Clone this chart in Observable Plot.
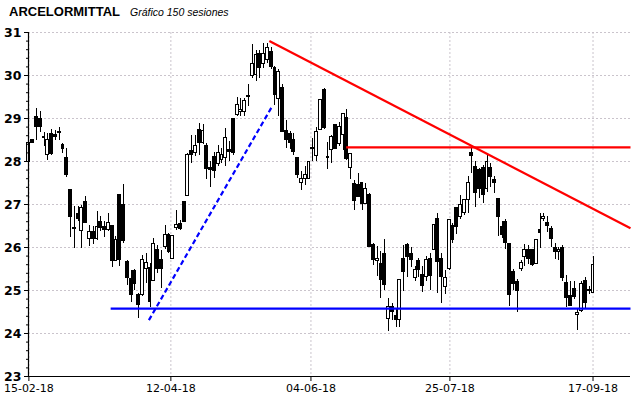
<!DOCTYPE html>
<html>
<head>
<meta charset="utf-8">
<script src="https://cdn.jsdelivr.net/npm/d3@7"></script>
<script src="https://cdn.jsdelivr.net/npm/@observablehq/plot@0.6"></script>
<style>
  html, body { margin: 0; padding: 0; background: white; }
  #wrap { position: relative; width: 640px; height: 398px; }
  #title { position: absolute; left: 9px; top: 2px; font-family: "Liberation Sans", Arial, sans-serif; white-space: nowrap; }
  #title .t { font-weight: bold; font-size: 13px; }
  #title .s { font-style: italic; font-size: 10.5px; margin-left: 10px; }
</style>
</head>
<body>
<div id="wrap">
  <div id="title"><span class="t">ARCELORMITTAL</span><span class="s">Gráfico 150 sesiones</span></div>
</div>
<script>
// Daily sessions (index 0 = 15-02-18, index 149 = 17-09-18)
const open = [
  28.0, 28.51, 29.04, 29.0, 28.57, 28.16, 28.64, 28.62, 28.66, 28.38,
  28.09, 27.33, 26.43, 26.79, 26.39, 27.05, 26.19, 26.35, 26.19, 26.6,
  26.48, 26.41, 26.5, 25.69, 27.22, 27.0, 25.67, 25.26, 25.45, 24.89,
  24.89, 25.49, 25.53, 25.22, 25.94, 25.7, 26.02, 26.29, 25.73, 26.46,
  26.54, 27.06, 27.2, 28.24, 28.2, 28.73, 28.42, 28.36, 27.85, 28.1,
  27.95, 28.03, 28.07, 28.26, 29.0, 29.09, 29.14, 29.16, 29.5, 29.99,
  30.02, 30.49, 30.26, 30.36, 30.55, 30.18, 29.45, 29.7, 28.72, 28.63,
  28.5, 28.09, 27.51, 27.59, 27.6, 28.32, 28.12, 28.74, 29.67, 28.1,
  28.26, 28.84, 28.4, 28.61, 29.02, 27.86, 27.47, 27.45, 27.5, 27.02,
  27.22, 26.05, 25.69, 25.61, 25.86, 24.33, 24.62, 24.4, 24.31, 25.74,
  26.05, 25.86, 25.3, 25.68, 25.36, 25.32, 25.74, 25.95, 26.67, 25.74,
  25.09, 25.49, 26.5, 26.91, 26.7, 26.8, 27.1, 28.19, 27.88, 27.8,
  27.84, 27.37, 27.86, 27.58, 27.12, 26.48, 26.6, 26.09, 25.43, 25.2,
  25.51, 25.78, 25.95, 25.94, 25.61, 26.4, 26.66, 26.57, 26.44, 26.0,
  25.9, 26.0, 25.18, 24.88, 25.03, 24.42, 24.53, 25.21, 24.98, 24.94
];
const high = [
  28.45, 28.52, 29.24, 29.16, 28.67, 28.65, 28.74, 28.72, 28.79, 28.43,
  28.3, 27.36, 26.95, 26.95, 26.98, 27.18, 26.52, 26.48, 26.84, 26.71,
  26.6, 26.79, 26.5, 26.25, 27.22, 27.47, 25.7, 25.47, 25.5, 24.92,
  25.82, 25.86, 25.63, 26.21, 26.05, 25.94, 26.52, 26.32, 26.27, 26.87,
  26.62, 27.08, 28.19, 28.6, 28.61, 28.88, 28.85, 28.42, 27.99, 28.2,
  28.38, 28.3, 28.77, 28.46, 29.0, 29.5, 29.47, 29.47, 29.79, 30.72,
  30.59, 30.57, 30.74, 30.74, 30.64, 30.22, 30.15, 29.8, 28.95, 28.69,
  28.65, 28.09, 27.76, 27.88, 28.0, 28.54, 28.8, 29.44, 29.7, 28.45,
  28.6, 28.86, 28.9, 29.12, 29.2, 28.17, 27.56, 27.72, 27.5, 27.49,
  27.26, 26.09, 26.02, 25.9, 26.19, 24.81, 24.7, 24.55, 25.24, 26.05,
  26.1, 26.0, 25.55, 25.75, 25.55, 25.78, 25.86, 26.54, 26.79, 25.86,
  25.47, 26.66, 26.55, 26.93, 27.22, 27.12, 27.64, 28.3, 28.0, 27.84,
  27.91, 28.19, 27.95, 27.64, 27.12, 26.6, 26.65, 26.1, 25.5, 25.25,
  25.7, 26.08, 26.05, 25.95, 26.17, 26.79, 26.78, 26.72, 26.48, 26.1,
  26.0, 26.05, 25.35, 25.2, 25.2, 24.55, 25.2, 25.3, 25.1, 25.8
];
const low = [
  28.0, 28.42, 28.5, 28.67, 28.34, 28.02, 28.13, 28.5, 28.5, 28.19,
  27.63, 26.23, 25.98, 26.6, 25.98, 26.56, 26.02, 26.06, 26.17, 26.37,
  26.23, 26.37, 25.53, 25.69, 25.55, 26.1, 25.12, 24.71, 25.0, 24.35,
  24.87, 25.16, 24.6, 25.2, 25.4, 25.05, 25.95, 25.86, 25.72, 26.4,
  26.4, 26.58, 27.19, 27.95, 28.11, 28.15, 28.4, 27.57, 27.39, 27.6,
  27.88, 27.95, 27.88, 27.99, 28.15, 29.04, 29.04, 29.04, 29.27, 29.93,
  29.85, 29.93, 30.16, 30.28, 30.15, 29.3, 29.05, 28.69, 28.3, 28.29,
  28.15, 27.6, 27.33, 27.45, 27.6, 28.0, 27.99, 28.74, 28.75, 27.81,
  27.95, 28.28, 28.35, 28.26, 28.03, 27.57, 26.86, 27.18, 26.86, 27.02,
  26.02, 25.59, 25.32, 24.81, 25.0, 24.04, 24.3, 24.15, 24.15, 24.97,
  25.3, 25.53, 25.2, 25.3, 24.95, 25.2, 25.0, 25.93, 24.93, 24.7,
  24.9, 25.47, 26.1, 26.3, 26.64, 26.75, 26.8, 27.72, 26.92, 27.14,
  27.02, 27.29, 27.4, 27.26, 26.25, 26.2, 25.95, 24.62, 25.0, 24.5,
  25.45, 25.55, 25.6, 25.55, 25.6, 25.98, 26.6, 26.35, 26.0, 25.72,
  25.7, 25.2, 24.6, 24.62, 24.8, 24.08, 24.5, 24.55, 24.9, 24.94
];
const close = [
  28.43, 28.42, 28.8, 28.81, 28.55, 28.5, 28.17, 28.56, 28.68, 28.28,
  27.69, 26.7, 26.45, 26.67, 26.93, 26.58, 26.35, 26.19, 26.48, 26.46,
  26.4, 26.58, 25.69, 26.17, 25.7, 26.16, 25.28, 24.89, 25.16, 24.66,
  25.72, 25.65, 24.74, 26.07, 25.51, 25.51, 26.3, 25.9, 26.27, 26.52,
  26.44, 26.6, 28.16, 28.16, 28.36, 28.42, 28.7, 27.82, 27.81, 27.78,
  28.19, 28.15, 28.55, 28.21, 28.19, 29.31, 29.19, 29.4, 29.52, 30.26,
  30.47, 30.18, 30.51, 30.63, 30.2, 29.55, 30.08, 28.69, 28.5, 28.44,
  28.22, 27.68, 27.6, 27.68, 27.99, 28.28, 28.68, 29.44, 28.77, 28.07,
  28.57, 28.3, 28.8, 29.1, 28.05, 28.17, 27.09, 27.18, 27.02, 27.37,
  26.02, 25.72, 25.74, 25.24, 25.12, 24.62, 24.5, 24.31, 25.24, 25.43,
  25.78, 25.7, 25.47, 25.47, 25.1, 25.71, 25.33, 26.53, 25.67, 25.32,
  25.28, 26.64, 26.17, 26.48, 27.0, 27.1, 27.49, 28.12, 27.26, 27.37,
  27.22, 27.99, 27.64, 27.49, 26.7, 26.3, 26.1, 24.89, 25.16, 24.99,
  25.65, 25.95, 25.74, 25.59, 26.17, 26.33, 26.72, 26.5, 26.19, 25.9,
  25.95, 25.3, 24.82, 24.65, 24.84, 24.48, 25.15, 24.71, 25.02, 25.6
];

// x-axis tick positions (session index) and labels
const tickIdx = [0, 37.5, 74.5, 111.2, 149];
const tickLabels = ["15-02-18", "12-04-18", "04-06-18", "25-07-18", "17-09-18"];
const yTicks = [23, 24, 25, 26, 27, 28, 29, 30, 31];

// Trend lines (start index, start value, end index, end value)
const trendX1 = [21.6, 31.7, 63.5, 83.8];
const trendY1 = [24.58, 24.31, 30.80, 28.33];
const trendX2 = [158.9, 64.3, 158.9, 158.9];
const trendY2 = [24.58, 29.29, 26.45, 28.33];
const trendColor = ["#0000ff", "#0000ff", "#ff0000", "#ff0000"];
const trendDashed = [false, true, false, false];

const xDomain = [-0.1, 158.9];

const data = open.map((o, i) => ({i, o, h: high[i], l: low[i], c: close[i]}));
const trends = trendX1.map((x1, k) => ({x1, y1: trendY1[k], x2: trendX2[k], y2: trendY2[k], color: trendColor[k], dashed: trendDashed[k]}));
const labelMap = new Map(tickIdx.map((t, k) => [t, tickLabels[k]]));
const minorTicks = d3.range(230, 311, 2).map(v => v / 10).filter(v => !Number.isInteger(v));

const gridColor = "#cac4cc";

const chart = Plot.plot({
  width: 640,
  height: 398,
  marginLeft: 28,
  marginRight: 10,
  marginTop: 32,
  marginBottom: 22,
  style: {fontFamily: "DejaVu Sans", fontSize: "11px", background: "white", color: "black", overflow: "visible"},
  x: {domain: xDomain, axis: null},
  y: {domain: [23, 31], axis: null},
  marks: [
    Plot.gridY(yTicks, {stroke: gridColor, strokeOpacity: 1, strokeDasharray: "2,2"}),
    Plot.gridX(tickIdx, {stroke: gridColor, strokeOpacity: 1, strokeDasharray: "2,2"}),
    Plot.ruleX(data, {x: "i", y1: "l", y2: "h", stroke: "black", strokeWidth: 1, shapeRendering: "crispEdges"}),
    Plot.rect(data, {
      x1: d => d.i - 0.38,
      x2: d => d.i + 0.38,
      y1: d => Math.min(d.o, d.c),
      y2: d => Math.max(d.o, d.c),
      fill: d => d.c >= d.o ? "white" : "black",
      stroke: "black",
      strokeWidth: 1,
      shapeRendering: "crispEdges"
    }),
    Plot.link(trends.filter(d => !d.dashed), {x1: "x1", y1: "y1", x2: "x2", y2: "y2", stroke: "color", strokeWidth: 2.2}),
    Plot.link(trends.filter(d => d.dashed), {x1: "x1", y1: "y1", x2: "x2", y2: "y2", stroke: "color", strokeWidth: 2.2, strokeDasharray: "5,3"}),
    Plot.ruleX([xDomain[0]], {stroke: "black", strokeWidth: 1.2}),
    Plot.ruleY([23], {stroke: "black", strokeWidth: 1.2}),
    Plot.axisY(yTicks, {tickSize: 4, tickPadding: 3, fontWeight: "bold", fontSize: 12.5, fontFamily: "DejaVu Sans"}),
    Plot.axisY(minorTicks, {tickSize: 2, tickFormat: () => ""}),
    Plot.axisX(tickIdx, {tickSize: 5, tickPadding: 3, tickFormat: d => labelMap.get(d), fontSize: 11, fontFamily: "DejaVu Sans"})
  ]
});

document.getElementById("wrap").prepend(chart);
</script>
</body>
</html>
